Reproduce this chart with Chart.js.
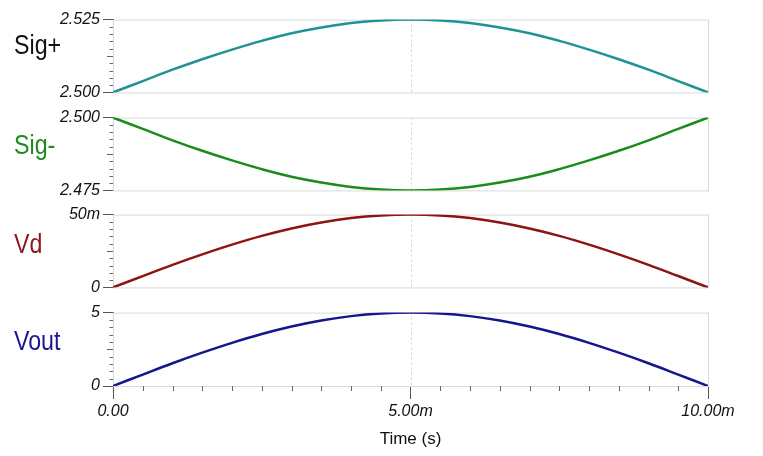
<!DOCTYPE html>
<html>
<head>
<meta charset="utf-8">
<script src="https://cdn.jsdelivr.net/npm/chart.js@4/dist/chart.umd.min.js"></script>
<style>
  html, body { margin: 0; padding: 0; background: #fff; }
  #wrap { position: relative; width: 763px; height: 456px; overflow: hidden; font-family: "Liberation Sans", Arial, sans-serif; }
  #wrap canvas { position: absolute; left: 0; }
  .sig { position: absolute; left: 14px; font-size: 27px; line-height: 1; transform: scaleX(0.86); transform-origin: left top; white-space: nowrap; }
</style>
</head>
<body>
<div id="wrap">
  <canvas id="c0" width="763" height="98" style="top:7px"></canvas>
  <canvas id="c1" width="763" height="98" style="top:105px"></canvas>
  <canvas id="c2" width="763" height="98" style="top:202px"></canvas>
  <canvas id="c3" width="763" height="156" style="top:300px"></canvas>
  <div class="sig" style="top:32px;color:#111">Sig+</div>
  <div class="sig" style="top:132px;color:#1c8c1c">Sig-</div>
  <div class="sig" style="top:231px;color:#8c1818">Vd</div>
  <div class="sig" style="top:328px;color:#18188c">Vout</div>
</div>
<script>
// 時間軸 (ms)
const timeMs = [0, 0.5, 1, 1.5, 2, 2.5, 3, 3.5, 4, 4.5, 5, 5.5, 6, 6.5, 7, 7.5, 8, 8.5, 9, 9.5, 10];

// 各信号の値
const sigPlus = [2.5, 2.5039, 2.5078, 2.5114, 2.5147, 2.5177, 2.5203, 2.5223, 2.5238, 2.5247, 2.525,
                 2.5247, 2.5238, 2.5223, 2.5203, 2.5177, 2.5147, 2.5114, 2.5078, 2.5039, 2.5];
const sigMinus = [2.5, 2.4961, 2.4922, 2.4886, 2.4853, 2.4823, 2.4797, 2.4777, 2.4762, 2.4753, 2.475,
                  2.4753, 2.4762, 2.4777, 2.4797, 2.4823, 2.4853, 2.4886, 2.4922, 2.4961, 2.5];
const vd = [0, 0.0078, 0.0155, 0.0227, 0.0294, 0.0354, 0.0405, 0.0446, 0.0476, 0.0494, 0.05,
            0.0494, 0.0476, 0.0446, 0.0405, 0.0354, 0.0294, 0.0227, 0.0155, 0.0078, 0];
const vout = [0, 0.78, 1.55, 2.27, 2.94, 3.54, 4.05, 4.46, 4.76, 4.94, 5.0,
              4.94, 4.76, 4.46, 4.05, 3.54, 2.94, 2.27, 1.55, 0.78, 0];

// 目盛りラベル
const sigPlusTicks = ['2.500', '2.525'];
const sigMinusTicks = ['2.475', '2.500'];
const vdTicks = ['0', '50m'];
const voutTicks = ['0', '5'];
const timeTicks = ['0.00', '5.00m', '10.00m'];
const timeTickValues = [0, 5, 10];

const tickFont = { family: '"Liberation Sans", Arial, sans-serif', size: 16, style: 'italic' };

// 枠・点線・補助目盛り
const scopeFrame = {
    id: 'scopeFrame',
    beforeDatasetsDraw(chart) {
        const { ctx, chartArea: a, scales } = chart;
        const x = scales.x, y = scales.y;
        ctx.save();
        ctx.strokeStyle = '#d9d9d9';
        ctx.lineWidth = 1;
        ctx.strokeRect(a.left + 0.5, a.top + 0.5, a.right - a.left, a.bottom - a.top);
        // 5ms の点線
        const mx = Math.round(x.getPixelForValue(5)) + 0.5;
        ctx.setLineDash([2, 3]);
        ctx.strokeStyle = '#cfcfcf';
        ctx.beginPath(); ctx.moveTo(mx, a.top); ctx.lineTo(mx, a.bottom); ctx.stroke();
        ctx.setLineDash([]);
        // y 補助目盛り
        ctx.strokeStyle = '#666';
        for (let k = 1; k < 10; k++) {
            const v = y.min + k * (y.max - y.min) / 10;
            const py = Math.round(y.getPixelForValue(v)) + 0.5;
            const len = k === 5 ? 6 : 3.5;
            ctx.beginPath(); ctx.moveTo(a.left - len, py); ctx.lineTo(a.left, py); ctx.stroke();
        }
        // x 補助目盛り（下段のみ）
        if (chart.options.scales.x.display) {
            for (let t = 0.5; t < 10; t += 0.5) {
                if (t === 5) continue;
                const px = Math.round(x.getPixelForValue(t)) + 0.5;
                ctx.beginPath(); ctx.moveTo(px, a.bottom); ctx.lineTo(px, a.bottom + 5); ctx.stroke();
            }
        }
        ctx.restore();
    }
};

function makePanel(id, values, color, yMin, yMax, yLabels, bottom) {
    const xScale = {
        type: 'linear', min: 0, max: 10,
        display: bottom
    };
    if (bottom) {
        Object.assign(xScale, {
            afterBuildTicks: s => { s.ticks = timeTickValues.map(v => ({ value: v })); },
            afterFit: s => { s.height = 70; },
            ticks: {
                font: tickFont, color: '#111', padding: 3, autoSkip: false, maxRotation: 0,
                callback: (v, i) => timeTicks[i]
            },
            grid: { drawOnChartArea: false, tickLength: 13, tickColor: '#555', color: '#555' },
            border: { display: true, color: '#666' },
            title: {
                display: true, text: 'Time (s)', color: '#111',
                font: { family: '"Liberation Sans", Arial, sans-serif', size: 17 },
                padding: { top: 6, bottom: 6 }
            }
        });
    }
    return new Chart(document.getElementById(id).getContext('2d'), {
        type: 'line',
        data: {
            datasets: [{
                data: timeMs.map((t, i) => ({ x: t, y: values[i] })),
                borderColor: color,
                borderWidth: 2.5,
                pointRadius: 0,
                tension: 0.4,
                fill: false
            }]
        },
        options: {
            responsive: false,
            animation: false,
            layout: { padding: { left: 0, right: 55, top: 12, bottom: bottom ? 0 : 12 } },
            plugins: { legend: { display: false }, tooltip: { enabled: false } },
            scales: {
                x: xScale,
                y: {
                    min: yMin, max: yMax,
                    afterBuildTicks: s => { s.ticks = [{ value: yMin }, { value: yMax }]; },
                    afterFit: s => { s.width = 113; },
                    ticks: { font: tickFont, color: '#111', padding: 3, callback: (v, i) => yLabels[i] },
                    grid: { drawOnChartArea: false, tickLength: 10, tickColor: '#555' },
                    border: { display: true, color: '#666' }
                }
            }
        },
        plugins: [scopeFrame]
    });
}

makePanel('c0', sigPlus, '#1f9393', 2.5, 2.525, sigPlusTicks, false);
makePanel('c1', sigMinus, '#1a8c1a', 2.475, 2.5, sigMinusTicks, false);
makePanel('c2', vd, '#8c1414', 0, 0.05, vdTicks, false);
makePanel('c3', vout, '#16168c', 0, 5, voutTicks, true);
</script>
</body>
</html>
